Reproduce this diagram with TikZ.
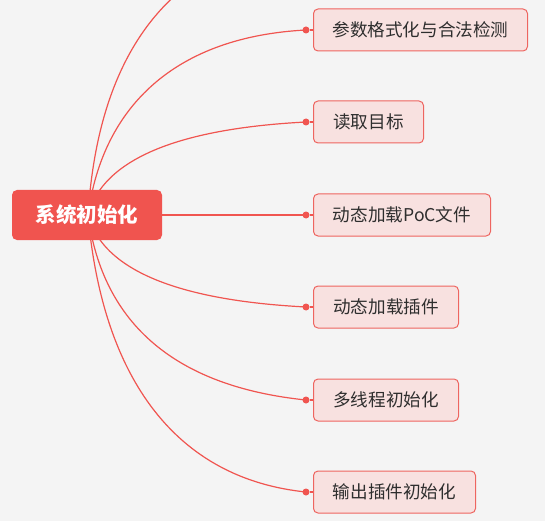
\documentclass[tikz,border=0pt]{standalone}
\usepackage{fontspec}
\newfontfamily\cjk{Noto Sans CJK SC}
\usetikzlibrary{positioning}
\definecolor{bgc}{HTML}{F4F4F4}
\definecolor{rootc}{HTML}{F0544F}
\definecolor{linec}{HTML}{F05550}
\definecolor{kidfill}{HTML}{F8E1E0}
\definecolor{kiddraw}{HTML}{EE6560}
\definecolor{kidtext}{HTML}{2E2E2E}
\tikzset{
  rootbox/.style={fill=rootc, draw=none, rounded corners=5pt, minimum width=150pt, minimum height=50pt, inner sep=0pt, text=white, font=\cjk\bfseries\fontsize{20.5}{23}\selectfont},
  kidbox/.style={fill=kidfill, draw=kiddraw, line width=1pt, rounded corners=4.5pt, minimum height=42pt, inner sep=0pt, anchor=west, text=kidtext, font=\cjk\fontsize{17.6}{20}\selectfont},
  conn/.style={draw=linec, line width=1.2pt},
  dot/.style={circle, fill=linec, minimum size=7pt, inner sep=0pt},
}
\begin{document}
\begin{tikzpicture}[x=1pt,y=-1pt]
\fill[bgc] (0,0) rectangle (545,521);
\useasboundingbox (0,0) rectangle (545,521);
% dots
\node[dot] (d0) at (306,-62) {};
\node[dot] (d1) at (306,30) {};
\node[dot] (d2) at (306,122) {};
\node[dot] (d3) at (306,215) {};
\node[dot] (d4) at (306,307) {};
\node[dot] (d5) at (306,400) {};
\node[dot] (d6) at (306,492) {};
\coordinate (rc) at (88,215);
% connectors
\draw[conn] (rc) .. controls (102.7,-12.3) and (232.7,-50.7) .. (d0.center);
\draw[conn] (rc) .. controls (102.7,105) and (176.7,36.7) .. (d1.center);
\draw[conn] (rc) .. controls (102.7,159.7) and (176.7,128.7) .. (d2.center);
\draw[conn] (rc) -- (d3.center);
\draw[conn] (rc) .. controls (102.7,269.7) and (176.7,300.3) .. (d4.center);
\draw[conn] (rc) .. controls (102.7,325) and (176.7,386.7) .. (d5.center);
\draw[conn] (rc) .. controls (102.7,379.7) and (176.7,478.7) .. (d6.center);
% root
\node[rootbox] (root) at (87,215) {系统初始化};
% children
\node[kidbox, minimum width=214pt] (k1) at (313,30) {参数格式化与合法检测};
\node[kidbox, minimum width=110pt] (k2) at (313,122) {读取目标};
\node[kidbox, minimum width=177pt] (k3) at (313,215) {动态加载PoC文件};
\node[kidbox, minimum width=145pt] (k4) at (313,307) {动态加载插件};
\node[kidbox, minimum width=145pt] (k5) at (313,400) {多线程初始化};
\node[kidbox, minimum width=162pt] (k6) at (313,492) {输出插件初始化};
\draw[conn] (d1) -- (k1.west);
\draw[conn] (d2) -- (k2.west);
\draw[conn] (d3) -- (k3.west);
\draw[conn] (d4) -- (k4.west);
\draw[conn] (d5) -- (k5.west);
\draw[conn] (d6) -- (k6.west);
\end{tikzpicture}
\end{document}
